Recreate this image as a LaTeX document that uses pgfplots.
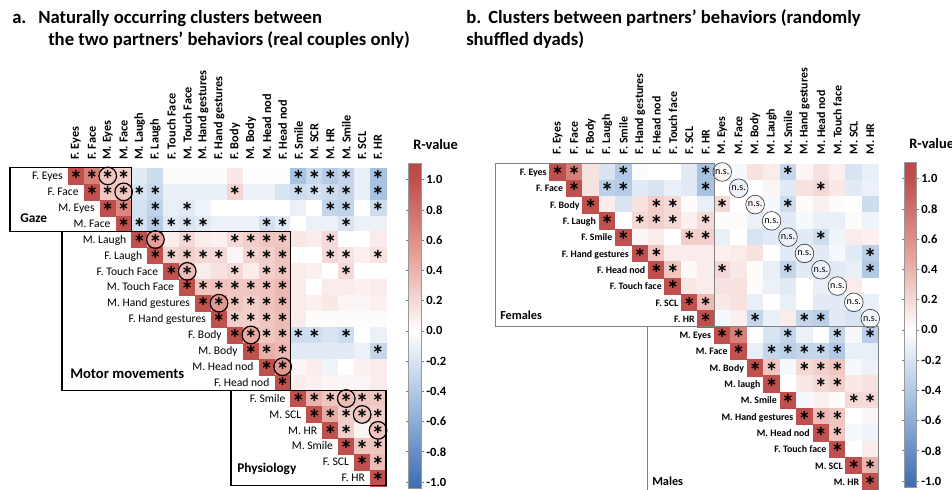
\documentclass[border=0pt]{standalone}
\usepackage{pgfplots}
\pgfplotsset{compat=1.18}
\usepackage{pgfplotstable}
\usepackage{fontspec}
\setmainfont{Carlito}
\newcommand\fs[1]{\fontsize{#1}{#1}\selectfont}
\newcommand\st{\bfseries\fs{19}\raisebox{-0.5em}{*}}
\pgfplotsset{
  colormap={rb}{rgb255(0pt)=(64,110,176); rgb255(4pt)=(68,114,180); rgb255(54pt)=(158,187,222); rgb255(104pt)=(255,255,255); rgb255(154pt)=(230,160,152); rgb255(204pt)=(192,80,77); rgb255(215pt)=(186,72,70)},
  hm/.style={
    scale only axis, enlargelimits=false, clip=false,
    xmin=0.5, xmax=20.5, ymin=-20.5, ymax=-0.5,
    axis line style={draw=none}, major tick length=0pt, tick style={draw=none},
    ytick=\empty, xtick={1,...,20}, xticklabel pos=upper,
    colormap name=rb, point meta min=-1.04, point meta max=1.11,
  },
  cbar/.style={
    colorbar style={
      scale only axis, anchor=north west,
      ytick={-1,-0.8,-0.6,-0.4,-0.2,0,0.2,0.4,0.6,0.8,1},
      yticklabel style={font=\bfseries\fs{9.4}, inner sep=1.5pt,
        /pgf/number format/.cd, fixed, fixed zerofill, precision=1, assume math mode=true},
      major tick length=2pt, tick align=outside, ytick style={draw=gray, line width=0.4pt},
      axis line style={draw=gray!80, line width=0.4pt},
      title={R-value}, title style={at={(0,1)}, anchor=base west, xshift=3.5pt, yshift=4pt, inner sep=0pt, font=\bfseries\fs{10.8}},
    }
  },
}
% ---------------- left panel data: row col r star ----------------
\pgfplotstableread{
r c v s
1 1 1.00 1
1 2 0.70 1
1 3 0.30 1
1 4 0.25 1
1 5 -0.15 0
1 6 -0.25 0
1 7 0.02 0
1 8 0.02 0
1 9 0.02 0
1 10 0.02 0
1 11 0.12 0
1 12 0.01 0
1 13 0.01 0
1 14 0.01 0
1 15 -0.45 1
1 16 -0.28 1
1 17 -0.38 1
1 18 -0.30 1
1 19 -0.12 0
1 20 -0.45 1
2 2 1.00 1
2 3 0.30 1
2 4 0.30 1
2 5 -0.20 1
2 6 -0.28 1
2 7 -0.12 0
2 8 -0.12 0
2 9 -0.12 0
2 10 -0.12 0
2 11 0.22 1
2 12 -0.10 0
2 13 -0.10 0
2 14 -0.20 0
2 15 -0.25 1
2 16 -0.22 1
2 17 -0.25 1
2 18 -0.30 1
2 19 -0.12 0
2 20 -0.45 1
3 3 1.00 1
3 4 0.65 1
3 5 -0.22 0
3 6 -0.32 1
3 7 -0.12 0
3 8 -0.15 1
3 9 -0.08 0
3 10 0.00 0
3 11 0.00 0
3 12 0.00 0
3 13 0.00 0
3 14 0.00 0
3 15 -0.10 0
3 16 0.00 0
3 17 -0.30 1
3 18 -0.32 1
3 19 0.00 0
3 20 -0.25 1
4 4 1.00 1
4 5 -0.22 1
4 6 -0.38 1
4 7 -0.15 1
4 8 -0.20 1
4 9 -0.15 1
4 10 -0.10 0
4 11 -0.10 0
4 12 -0.10 0
4 13 -0.22 1
4 14 -0.15 1
4 15 0.00 0
4 16 -0.10 0
4 17 -0.10 0
4 18 -0.20 1
4 19 -0.10 0
4 20 -0.10 0
5 5 1.00 1
5 6 0.50 1
5 7 0.10 0
5 8 0.20 1
5 9 0.10 0
5 10 0.08 0
5 11 0.20 1
5 12 0.25 1
5 13 0.30 1
5 14 0.30 1
5 15 0.12 0
5 16 0.10 0
5 17 0.20 1
5 18 0.00 0
5 19 0.00 0
5 20 0.10 0
6 6 1.00 1
6 7 0.22 1
6 8 0.25 1
6 9 0.20 1
6 10 0.20 1
6 11 0.05 0
6 12 0.22 1
6 13 0.25 1
6 14 0.32 1
6 15 0.00 0
6 16 0.00 0
6 17 0.20 1
6 18 0.15 1
6 19 0.08 0
6 20 0.15 1
7 7 1.00 1
7 8 0.35 1
7 9 0.10 0
7 10 0.15 0
7 11 0.20 1
7 12 0.10 0
7 13 0.25 1
7 14 0.30 1
7 15 0.10 0
7 16 0.08 0
7 17 0.00 0
7 18 0.20 1
7 19 0.00 0
7 20 0.00 0
8 8 1.00 1
8 9 0.30 1
8 10 0.32 1
8 11 0.30 1
8 12 0.30 1
8 13 0.32 1
8 14 0.38 1
8 15 0.10 0
8 16 0.00 0
8 17 0.10 0
8 18 0.10 0
8 19 0.08 0
8 20 0.10 0
9 9 1.00 1
9 10 0.55 1
9 11 0.30 1
9 12 0.25 1
9 13 0.32 1
9 14 0.38 1
9 15 0.10 0
9 16 0.08 0
9 17 0.12 0
9 18 0.05 0
9 19 0.05 0
9 20 0.08 0
10 10 1.00 1
10 11 0.25 1
10 12 0.25 1
10 13 0.30 1
10 14 0.35 1
10 15 0.10 0
10 16 0.02 0
10 17 0.02 0
10 18 0.02 0
10 19 0.02 0
10 20 0.02 0
11 11 1.00 1
11 12 0.45 1
11 13 0.30 1
11 14 0.35 1
11 15 -0.25 1
11 16 -0.25 1
11 17 -0.20 0
11 18 -0.25 1
11 19 0.00 0
11 20 -0.10 0
12 12 1.00 1
12 13 0.42 1
12 14 0.38 1
12 15 -0.15 0
12 16 -0.15 0
12 17 -0.15 0
12 18 -0.15 0
12 19 -0.10 0
12 20 -0.30 1
13 13 1.00 1
13 14 0.55 1
13 15 0.05 0
13 16 0.10 0
13 17 -0.08 0
13 18 0.00 0
13 19 0.08 0
13 20 0.10 0
14 14 1.00 1
14 15 0.10 0
14 16 0.08 0
14 17 0.05 0
14 18 0.05 0
14 19 0.05 0
14 20 0.10 0
15 15 1.00 1
15 16 0.40 1
15 17 0.30 1
15 18 0.35 1
15 19 0.30 1
15 20 0.30 1
16 16 1.00 1
16 17 0.45 1
16 18 0.25 1
16 19 0.30 1
16 20 0.25 1
17 17 1.00 1
17 18 0.25 1
17 19 0.05 0
17 20 0.30 1
18 18 1.00 1
18 19 0.30 1
18 20 0.30 1
19 19 1.00 1
19 20 0.35 1
20 20 1.00 1
}\leftdata
% ---------------- right panel data ----------------
\pgfplotstableread{
r c v s
1 1 1.00 1
1 2 0.70 1
1 3 0.15 0
1 4 -0.20 0
1 5 -0.40 1
1 6 -0.03 0
1 7 0.00 0
1 8 0.00 0
1 9 -0.15 0
1 10 -0.45 1
1 11 0.05 0
1 12 -0.05 0
1 13 0.15 0
1 14 0.10 0
1 15 -0.30 1
1 16 0.05 0
1 17 0.15 0
1 18 0.08 0
1 19 -0.20 0
1 20 -0.12 0
2 2 1.00 1
2 3 0.15 0
2 4 -0.35 1
2 5 -0.38 1
2 6 -0.15 0
2 7 -0.20 0
2 8 -0.12 0
2 9 -0.15 0
2 10 -0.45 1
2 11 0.00 0
2 12 -0.10 0
2 13 0.00 0
2 14 0.05 0
2 15 -0.15 0
2 16 0.15 0
2 17 0.20 1
2 18 0.12 0
2 19 -0.15 0
2 20 -0.10 0
3 3 1.00 1
3 4 0.10 0
3 5 -0.20 0
3 6 0.15 0
3 7 0.25 1
3 8 0.20 1
3 9 0.02 0
3 10 -0.12 0
3 11 0.20 1
3 12 0.00 0
3 13 0.05 0
3 14 -0.05 0
3 15 -0.25 1
3 16 0.02 0
3 17 0.08 0
3 18 0.02 0
3 19 0.00 0
3 20 -0.25 0
4 4 1.00 1
4 5 0.00 0
4 6 0.20 1
4 7 0.25 1
4 8 0.20 1
4 9 0.08 0
4 10 0.20 1
4 11 0.02 0
4 12 0.02 0
4 13 -0.10 0
4 14 0.00 0
4 15 -0.15 0
4 16 -0.05 0
4 17 -0.12 0
4 18 -0.12 0
4 19 0.02 0
4 20 -0.08 0
5 5 1.00 1
5 6 0.05 0
5 7 0.10 0
5 8 0.00 0
5 9 0.25 1
5 10 0.25 1
5 11 -0.12 0
5 12 0.00 0
5 13 -0.20 0
5 14 -0.15 0
5 15 -0.10 0
5 16 -0.15 0
5 17 -0.25 1
5 18 -0.08 0
5 19 0.10 0
5 20 0.08 0
6 6 1.00 1
6 7 0.30 1
6 8 0.10 0
6 9 0.10 0
6 10 0.10 0
6 11 0.08 0
6 12 0.10 0
6 13 0.15 0
6 14 0.00 0
6 15 -0.15 0
6 16 -0.05 0
6 17 -0.15 0
6 18 -0.05 0
6 19 -0.15 0
6 20 -0.35 1
7 7 1.00 1
7 8 0.30 1
7 9 0.03 0
7 10 0.10 0
7 11 0.20 1
7 12 0.12 0
7 13 0.02 0
7 14 -0.12 0
7 15 -0.30 1
7 16 -0.15 0
7 17 -0.10 0
7 18 -0.15 0
7 19 -0.12 0
7 20 -0.40 1
8 8 1.00 1
8 9 0.12 0
8 10 0.10 0
8 11 0.15 0
8 12 0.15 0
8 13 0.02 0
8 14 -0.10 0
8 15 -0.15 0
8 16 0.00 0
8 17 -0.12 0
8 18 0.00 0
8 19 0.10 0
8 20 0.00 0
9 9 1.00 1
9 10 0.35 1
9 11 0.12 0
9 12 0.15 0
9 13 -0.12 0
9 14 0.00 0
9 15 -0.12 0
9 16 0.00 0
9 17 -0.15 0
9 18 -0.15 0
9 19 0.00 0
9 20 -0.12 0
10 10 1.00 1
10 11 -0.05 0
10 12 0.08 0
10 13 -0.30 1
10 14 -0.12 0
10 15 0.10 0
10 16 -0.30 1
10 17 -0.35 1
10 18 -0.15 0
10 19 -0.20 0
10 20 -0.05 0
11 11 1.00 1
11 12 0.70 1
11 13 0.00 0
11 14 -0.20 0
11 15 -0.30 1
11 16 -0.10 0
11 17 0.00 0
11 18 -0.30 1
11 19 -0.05 0
11 20 -0.35 1
12 12 1.00 1
12 13 -0.12 0
12 14 -0.30 1
12 15 -0.35 1
12 16 -0.30 1
12 17 -0.30 1
12 18 -0.40 1
12 19 -0.12 0
12 20 -0.12 0
13 13 1.00 1
13 14 0.30 1
13 15 -0.05 0
13 16 0.20 1
13 17 0.25 1
13 18 0.30 1
13 19 -0.05 0
13 20 -0.10 0
14 14 1.00 1
14 15 0.00 0
14 16 0.12 0
14 17 0.20 1
14 18 0.25 1
14 19 0.12 0
14 20 0.15 0
15 15 1.00 1
15 16 -0.05 0
15 17 0.08 0
15 18 0.02 0
15 19 0.20 1
15 20 0.20 1
16 16 1.00 1
16 17 0.35 1
16 18 0.30 1
16 19 0.00 0
16 20 0.05 0
17 17 1.00 1
17 18 0.30 1
17 19 -0.05 0
17 20 -0.08 0
18 18 1.00 1
18 19 0.00 0
18 20 0.10 0
19 19 1.00 1
19 20 0.40 1
20 20 1.00 1
}\rightdata
\pgfplotstableread{
i lab
1 {F. Eyes}
2 {F. Face}
3 {M. Eyes}
4 {M. Face}
5 {M. Laugh}
6 {F. Laugh}
7 {F.  Touch Face}
8 {M. Touch Face}
9 {M. Hand gestures}
10 {F. Hand gestures}
11 {F. Body}
12 {M. Body}
13 {M. Head nod}
14 {F. Head nod}
15 {F. Smile}
16 {M. SCL}
17 {M. HR}
18 {M. Smile}
19 {F. SCL}
20 {F. HR}
}\leftrows
\pgfplotstableread{
i lab
1 {F. Eyes}
2 {F. Face}
3 {F. Body}
4 {F. Laugh}
5 {F. Smile}
6 {F. Hand gestures}
7 {F. Head nod}
8 {F. Touch face}
9 {F. SCL}
10 {F.  HR}
11 {M. Eyes}
12 {M. Face}
13 {M. Body}
14 {M. laugh}
15 {M. Smile}
16 {M. Hand gestures}
17 {M. Head nod}
18 {F. Touch face}
19 {M. SCL}
20 {M. HR}
}\rightrows
\begin{document}
\begin{tikzpicture}[x=0.75pt,y=-0.75pt]
\useasboundingbox (0,0) rectangle (952,489);
% ---------------- titles ----------------
\node[anchor=base west, inner sep=0pt, font=\bfseries\fs{14}] at (12,23) {a.};
\node[anchor=base west, inner sep=0pt, font=\bfseries\fs{14}] at (38,23) {Naturally occurring clusters between};
\node[anchor=base west, inner sep=0pt, font=\bfseries\fs{14}] at (48,45) {the two partners’ behaviors (real couples only)};
\node[anchor=base west, inner sep=0pt, font=\bfseries\fs{14}] at (466,23) {b.};
\node[anchor=base west, inner sep=0pt, font=\bfseries\fs{14}] at (488,23) {Clusters between partners’ behaviors (randomly};
\node[anchor=base west, inner sep=0pt, font=\bfseries\fs{14}] at (466,45) {shuffled dyads)};
% ---------------- left heat map ----------------
\begin{axis}[hm, cbar, at={(51pt,-364.5pt)}, anchor=south west, width=238.5pt, height=238.5pt,
  xticklabels={F. Eyes, F. Face, M. Eyes, M. Face, M. Laugh, F. Laugh, F.  Touch Face, M. Touch Face, M. Hand gestures, F. Hand gestures, F. Body, M. Body, M. Head nod, F. Head nod, F. Smile, M. SCR, M. HR, M. Smile, F. SCL, F. HR},
  xticklabel style={rotate=90, anchor=west, inner sep=0pt, font=\bfseries\fs{9.2}},
  xticklabel shift=6pt,
  colorbar, colorbar style={at={(parent axis.north east)}, xshift=8.25pt, yshift=3.75pt, width=9.75pt, height=243.75pt}]
\addplot[scatter, only marks, mark=square*, mark size=5.96pt, point meta=explicit,
  scatter/use mapped color={draw=mapped color, fill=mapped color}, line width=0.3pt]
  table[x=c, y expr=-\thisrow{r}, meta=v] {\leftdata};
\addplot[draw=none, mark=none, nodes near coords={\st}, nodes near coords align=center,
  every node near coord/.append style={anchor=center, inner sep=0pt, text height=0pt, text depth=0pt, text=black},
  restrict expr to domain={\thisrow{s}}{0.5:1.5}]
  table[x=c, y expr=-\thisrow{r}] {\leftdata};
\addplot[only marks, mark=o, mark size=6.6pt, mark options={line width=0.9pt, draw=black}]
  coordinates {(3,-1) (4,-2) (6,-5) (8,-7) (10,-9) (12,-11) (14,-13) (18,-15) (19,-16) (20,-17)};
\addplot[draw=none, mark=none, point meta=explicit symbolic, nodes near coords, nodes near coords align=east,
  every node near coord/.append style={anchor=east, inner sep=0pt, xshift=-3.75pt, text height=1.45ex, text depth=0.3ex, font=\fs{8.7}, text=black}]
  table[x expr=\thisrow{i}-0.5, y expr=-\thisrow{i}, meta=lab] {\leftrows};
\end{axis}
% ---------------- right heat map ----------------
\begin{axis}[hm, cbar, at={(412.125pt,-122.85pt)}, anchor=north west, width=246.75pt, height=244.5pt,
  xticklabels={F. Eyes, F. Face, F. Body, F. Laugh, F. Smile, F. Hand gestures, F. Head nod, F. Touch face, F. SCL, F. HR, M. Eyes, M. Face, M. Body, M. Laugh, M. Smile, M. Hand gestures, M. Head nod, M. Touch face, M. SCL, M. HR},
  xticklabel style={rotate=90, anchor=west, inner sep=0pt, font=\bfseries\fs{8.9}},
  xticklabel shift=7pt,
  colorbar, colorbar style={at={(parent axis.north east)}, xshift=10.9pt, yshift=1.35pt, width=9pt, height=243.75pt}]
\addplot[scatter, only marks, mark=square*, mark size=6.17pt, point meta=explicit,
  scatter/use mapped color={draw=mapped color, fill=mapped color}, line width=0.3pt]
  table[x=c, y expr=-\thisrow{r}, meta=v] {\rightdata};
\addplot[draw=none, mark=none, nodes near coords={\st}, nodes near coords align=center,
  every node near coord/.append style={anchor=center, inner sep=0pt, text height=0pt, text depth=0pt, text=black},
  restrict expr to domain={\thisrow{s}}{0.5:1.5}]
  table[x=c, y expr=-\thisrow{r}] {\rightdata};
\addplot[draw=none, mark=none, nodes near coords={n.s.}, nodes near coords align=center,
  every node near coord/.append style={anchor=center, circle, draw=black!75, line width=0.5pt, inner sep=0pt, minimum size=14pt, font=\fs{7.6}, text=black}]
  coordinates {(11,-1) (12,-2) (13,-3) (14,-4) (15,-5) (16,-6) (17,-7) (18,-8) (19,-9) (20,-10)};
\addplot[draw=none, mark=none, point meta=explicit symbolic, nodes near coords, nodes near coords align=east,
  every node near coord/.append style={anchor=east, inner sep=0pt, xshift=-2pt, text height=1.45ex, text depth=0.3ex, font=\bfseries\fs{7.4}, text=black}]
  table[x expr=\thisrow{i}-0.5, y expr=-\thisrow{i}, meta=lab] {\rightrows};
\end{axis}
% ---------------- cluster boxes ----------------
\draw[black, line width=0.8pt] (10,167.5) rectangle (131.6,231.6);
\draw[black, line width=0.8pt] (62,231.6) rectangle (290.6,390.6);
\draw[black, line width=0.8pt] (231,390.6) rectangle (386,485.5);
\node[anchor=west, inner sep=0pt, font=\bfseries\fs{10}] at (20,218) {Gaze};
\node[anchor=west, inner sep=0pt, font=\bfseries\fs{11}] at (70,374) {Motor movements};
\node[anchor=west, inner sep=0pt, font=\bfseries\fs{10}] at (237,469) {Physiology};
\draw[gray, line width=0.7pt] (495,163) rectangle (714,326.8);
\draw[gray, line width=0.7pt] (647,326.8) rectangle (878.5,495);
\node[anchor=west, inner sep=0pt, font=\bfseries\fs{9.2}] at (500,315) {Females};
\node[anchor=west, inner sep=0pt, font=\bfseries\fs{9.2}] at (652,481) {Males};
\end{tikzpicture}
\end{document}
